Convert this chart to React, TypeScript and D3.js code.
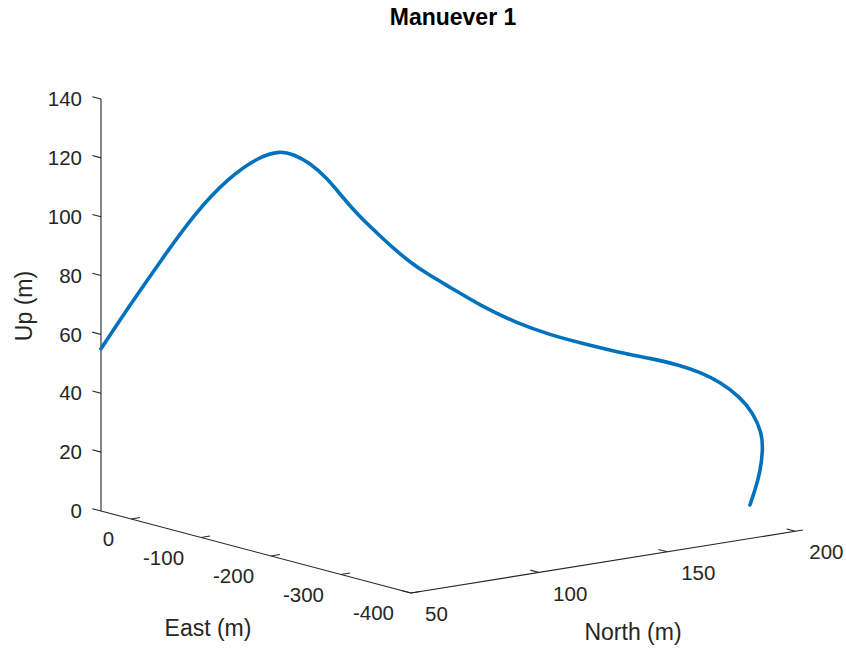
import React from "react";
import * as d3 from "d3";

// Trajectory samples (metres)
const east = [43, 25.6, 3.8, -17.4, -38.7, -59.2, -72.1, -80.5, -91.4, -102.3, -112.6, -123.5, -134.5, -144.8, -155.7, -166.6, -181.4, -202.6, -224.5, -245.7, -266.9, -288.8, -310.0, -329.3, -342.2, -355.0, -367.9, -376.2, -382.0, -382.7, -380.7, -377.5, -374.3];
const north = [50, 55.8, 63.1, 70.2, 77.3, 84.1, 88.4, 91.2, 94.9, 98.5, 102.0, 105.6, 109.3, 112.7, 116.3, 120.0, 124.9, 132.0, 139.3, 146.4, 153.5, 160.8, 167.9, 174.3, 178.6, 182.9, 187.2, 190.0, 191.9, 192.1, 191.5, 190.4, 189.3];
const up = [55.1, 69.3, 86.3, 102.2, 114.5, 122.2, 124.2, 123.3, 120.4, 115.5, 108.9, 102.6, 97.3, 92.4, 87.8, 84.0, 79.7, 73.3, 68.2, 64.5, 61.9, 59.4, 57.6, 55.6, 53.4, 50.3, 45.4, 40.1, 33.4, 27.6, 19.8, 13.9, 8.8];

const eastTicks = [0, -100, -200, -300, -400];
const northTicks = [50, 100, 150, 200];
const upTicks = [0, 20, 40, 60, 80, 100, 120, 140];

const eastDomain = [-400, 43];
const northDomain = [50, 203];
const upDomain = [0, 140];

const W = 846;
const H = 649;
const FONT = "'Liberation Sans', Arial, Helvetica, sans-serif";
const INK = "#262626";

export default function App() {
  // normalised box coordinates for each axis
  const e = d3.scaleLinear().domain(eastDomain).range([0, 1]);
  const n = d3.scaleLinear().domain(northDomain).range([0, 1]);
  const u = d3.scaleLinear().domain(upDomain).range([0, 1]);

  // orthographic view: box corner at (east min, north min, up 0) and edge vectors
  const origin = [411, 593];
  const vE = [-310, -82];
  const vN = [392, -63];
  const vU = [0, -412];

  const project = (ev: number, nv: number, uv: number): [number, number] => {
    const a = e(ev), b = n(nv), c = u(uv);
    return [
      origin[0] + a * vE[0] + b * vN[0] + c * vU[0],
      origin[1] + a * vE[1] + b * vN[1] + c * vU[1],
    ];
  };

  const unit = (v: number[]) => {
    const l = Math.hypot(v[0], v[1]);
    return [v[0] / l, v[1] / l];
  };
  const dE = unit(vE);
  const dN = unit(vN);
  const tickLen = 9;

  const pts = east.map((ev, i) => project(ev, north[i], up[i]));
  const line = d3.line<[number, number]>().curve(d3.curveBasis);

  const eMax = eastDomain[1];
  const nMin = northDomain[0];
  const nMax = northDomain[1];
  const eMin = eastDomain[0];

  const corner = project(eMax, nMin, 0);
  const low = project(eMin, nMin, 0);
  const right = project(eMin, nMax, 0);
  const top = project(eMax, nMin, upDomain[1]);

  return (
    <svg width={W} height={H} style={{ position: "absolute", left: 0, top: 0, background: "#fff" }}>
      <text x={453} y={25} textAnchor="middle" fontFamily={FONT} fontSize={23} fontWeight="bold" fill="#000">
        Manuever 1
      </text>

      {/* axis lines */}
      <g stroke={INK} strokeWidth={1.1} fill="none">
        <line x1={corner[0]} y1={corner[1]} x2={top[0]} y2={top[1]} />
        <line x1={corner[0]} y1={corner[1]} x2={low[0]} y2={low[1]} />
        <line x1={low[0]} y1={low[1]} x2={right[0]} y2={right[1]} />
      </g>

      {/* Up axis */}
      {upTicks.map((t) => {
        const p = project(eMax, nMin, t);
        return (
          <g key={"u" + t}>
            <line x1={p[0]} y1={p[1]} x2={p[0] + dE[0] * tickLen} y2={p[1] + dE[1] * tickLen} stroke={INK} strokeWidth={1.1} />
            <text x={p[0] - 19} y={p[1]} dy="0.35em" textAnchor="end" fontFamily={FONT} fontSize={20.5} fill={INK}>
              {t}
            </text>
          </g>
        );
      })}

      {/* East axis */}
      {eastTicks.map((t) => {
        const p = project(t, nMin, 0);
        return (
          <g key={"e" + t}>
            <line x1={p[0]} y1={p[1]} x2={p[0] + dN[0] * tickLen} y2={p[1] + dN[1] * tickLen} stroke={INK} strokeWidth={1.1} />
            <text x={p[0] - 17} y={p[1] + 20} dy="0.35em" textAnchor="end" fontFamily={FONT} fontSize={20.5} fill={INK}>
              {t}
            </text>
          </g>
        );
      })}

      {/* North axis */}
      {northTicks.map((t) => {
        const p = project(eMin, t, 0);
        return (
          <g key={"n" + t}>
            <line x1={p[0]} y1={p[1]} x2={p[0] + dE[0] * tickLen} y2={p[1] + dE[1] * tickLen} stroke={INK} strokeWidth={1.1} />
            <text x={p[0] + 14} y={p[1] + 21} dy="0.35em" textAnchor="start" fontFamily={FONT} fontSize={20.5} fill={INK}>
              {t}
            </text>
          </g>
        );
      })}

      <text x={208} y={628} dy="0.35em" textAnchor="middle" fontFamily={FONT} fontSize={23} fill={INK}>
        East (m)
      </text>
      <text x={633} y={632} dy="0.35em" textAnchor="middle" fontFamily={FONT} fontSize={23} fill={INK}>
        North (m)
      </text>
      <text
        transform="translate(24,306) rotate(-90)"
        dy="0.35em"
        textAnchor="middle"
        fontFamily={FONT}
        fontSize={23}
        fill={INK}
      >
        Up (m)
      </text>

      <path d={line(pts) || ""} fill="none" stroke="#0072BD" strokeWidth={3.6} strokeLinejoin="round" strokeLinecap="round" />
    </svg>
  );
}
